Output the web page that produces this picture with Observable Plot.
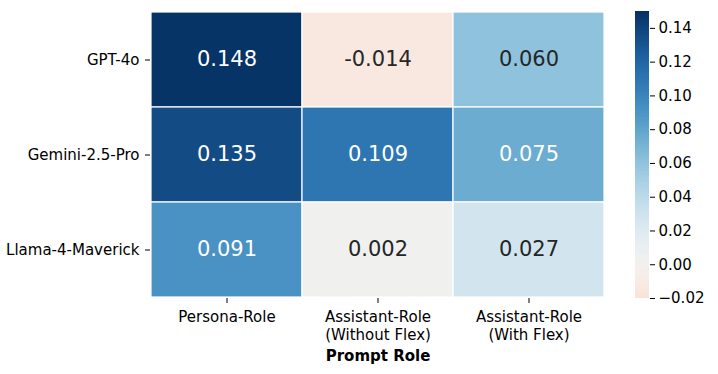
<!DOCTYPE html>
<html><head><meta charset="utf-8">
<script src="https://cdn.jsdelivr.net/npm/d3@7"></script>
<script src="https://cdn.jsdelivr.net/npm/@observablehq/plot@0.6"></script>
<style>
body{margin:0;background:#fff;}
#chart{position:relative;width:718px;height:374px;font-family:"DejaVu Sans",sans-serif;}
#chart svg{position:absolute;top:0;}
</style>
</head><body><div id="chart"></div>
<script>
const models = ["GPT-4o", "Gemini-2.5-Pro", "Llama-4-Maverick"];
const roles = ["Persona-Role", "Assistant-Role\n(Without Flex)", "Assistant-Role\n(With Flex)"];
const gptValues = [0.148, -0.014, 0.060];
const geminiValues = [0.135, 0.109, 0.075];
const llamaValues = [0.091, 0.002, 0.027];
const colorTicks = [-0.02, 0.00, 0.02, 0.04, 0.06, 0.08, 0.10, 0.12, 0.14];
const colorDomain = [-0.02, 0.15];
const xTitle = "Prompt Role";

const series = [gptValues, geminiValues, llamaValues];
const data = [];
models.forEach((m, i) => roles.forEach((r, j) => data.push({model: m, role: r, value: series[i][j]})));

const colorOpts = {type: "diverging", scheme: "RdBu", domain: colorDomain, pivot: 0, symmetric: true};
const colorScale = Plot.scale({color: colorOpts});
function textColor(v) {
  const c = d3.rgb(colorScale.apply(v));
  const f = x => { x /= 255; return x <= 0.03928 ? x / 12.92 : Math.pow((x + 0.055) / 1.055, 2.4); };
  const lum = 0.2126 * f(c.r) + 0.7152 * f(c.g) + 0.0722 * f(c.b);
  return lum > 0.408 ? "#262626" : "#ffffff";
}

const baseStyle = {fontFamily: "DejaVu Sans", fontSize: "15px", color: "#000", background: "transparent", overflow: "visible"};

const heat = Plot.plot({
  width: 620, height: 374,
  marginLeft: 150, marginRight: 15, marginTop: 11, marginBottom: 76,
  style: baseStyle,
  x: {type: "band", domain: roles, padding: 0, label: null},
  y: {type: "band", domain: models, padding: 0, label: null},
  color: colorOpts,
  marks: [
    Plot.cell(data, {x: "role", y: "model", fill: "value", stroke: "white", strokeWidth: 1.2}),
    Plot.text(data, {x: "role", y: "model", text: d => d.value.toFixed(3), fill: d => textColor(d.value), fontSize: 21, dy: -1}),
    Plot.axisX({tickSize: 5, tickPadding: 6, label: null, lineHeight: 1.2, fontSize: 15}),
    Plot.axisY({tickSize: 5, tickPadding: 6, label: null, fontSize: 15}),
    Plot.text([xTitle], {frameAnchor: "bottom", lineAnchor: "middle", dy: 58, fontWeight: "bold", fontSize: 15, fill: "#000"})
  ]
});
heat.style.left = "0px";

const steps = d3.range(colorDomain[0], colorDomain[1], 0.0005);
const bar = Plot.plot({
  width: 98, height: 374,
  marginLeft: 15, marginRight: 69, marginTop: 11, marginBottom: 76,
  style: baseStyle,
  x: {domain: [0, 1], axis: null},
  y: {domain: colorDomain, label: null},
  color: colorOpts,
  marks: [
    Plot.rect(steps, {x1: 0, x2: 1, y1: d => d, y2: d => Math.min(d + 0.0012, colorDomain[1]), fill: d => d, shapeRendering: "crispEdges"}),
    Plot.axisY({anchor: "right", ticks: colorTicks, tickFormat: d3.format(".2f"), tickSize: 5, tickPadding: 4, label: null, fontSize: 15})
  ]
});
bar.style.left = "620px";

const root = document.getElementById("chart");
root.appendChild(heat);
root.appendChild(bar);
</script>
</body></html>
